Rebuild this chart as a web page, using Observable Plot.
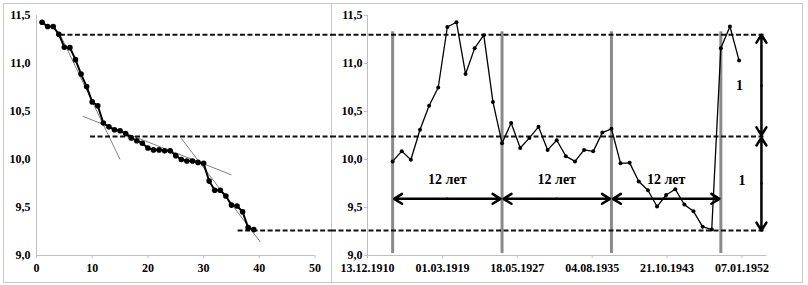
<!DOCTYPE html>
<html><head><meta charset="utf-8">
<script src="https://cdn.jsdelivr.net/npm/d3@7"></script>
<script src="https://cdn.jsdelivr.net/npm/@observablehq/plot@0.6"></script>
<style>
body{margin:0;background:#fff;overflow:hidden;}
#frame{position:relative;width:808px;height:285px;overflow:hidden;background:#fff;}
#border{position:absolute;left:3px;top:3px;width:798px;height:278px;border:1px solid #c8c8c8;}
#divider{position:absolute;left:331px;top:3px;width:1px;height:279px;background:#c8c8c8;}
#left{position:absolute;left:0;top:0;}
#right{position:absolute;left:331px;top:0;}
#frame svg{font-family:"Liberation Serif","Times New Roman",serif !important;font-weight:bold !important;}
#frame svg text{font-family:"Liberation Serif","Times New Roman",serif !important;font-weight:bold !important;}
</style></head><body>
<div id="frame"><div id="border"></div><div id="divider"></div><div id="left"></div><div id="right"></div></div>
<script>
// ---- Left panel: values sorted in descending order (rank vs value)
const rankIndex = [1,2,3,4,5,6,7,8,9,10,11,12,13,14,15,16,17,18,19,20,21,22,23,24,25,26,27,28,29,30,31,32,33,34,35,36,37,38,39];
const sortedValues = [11.43,11.385,11.385,11.305,11.17,11.165,11.04,10.89,10.76,10.60,10.56,10.38,10.34,10.31,10.30,10.27,10.225,10.195,10.17,10.12,10.10,10.10,10.09,10.09,10.04,10.00,9.985,9.985,9.97,9.96,9.775,9.68,9.68,9.62,9.525,9.515,9.455,9.29,9.27];
const leftXTicks = [0,10,20,30,40,50];
const yTicks = [9,9.5,10,10.5,11,11.5];

// trend segments on the left panel
const trendX1 = [4.0, 8.3, 26.0];
const trendY1 = [11.33, 10.45, 10.22];
const trendX2 = [15.0, 35.0, 40.2];
const trendY2 = [10.00, 9.84, 9.14];

// dashed levels
const levels = [11.30, 10.24, 9.26];
const levelStartRank = [4.3, 9.7, 36.2];
const levelEndRank = 53;

// ---- Right panel: yearly series
const years = [1913,1914,1915,1916,1917,1918,1919,1920,1921,1922,1923,1924,1925,1926,1927,1928,1929,1930,1931,1932,1933,1934,1935,1936,1937,1938,1939,1940,1941,1942,1943,1944,1945,1946,1947,1948,1949,1950,1951];
const yearValues = [9.98,10.087,9.997,10.31,10.56,10.75,11.38,11.43,10.89,11.16,11.295,10.60,10.17,10.38,10.12,10.225,10.34,10.10,10.20,10.035,9.98,10.10,10.085,10.28,10.32,9.96,9.965,9.77,9.68,9.51,9.63,9.69,9.53,9.46,9.30,9.27,11.16,11.385,11.03];
const dateTickStrings = ["1910-12-13","1919-03-01","1927-05-18","1935-08-04","1943-10-21","1952-01-07"];
const periodYears = [1913,1925,1937,1949];
const periodLabel = "12 лет";
const arrowLevel = 9.59;
const periodLabelLevel = 9.79;
const ratioLabel = "1";
const ratioLabelDates = ["1951-09-28","1952-01-14"];
const ratioLabelLevels = [10.77, 9.78];
const ratioArrowDate = "1954-02-27";
const rightDomain = ["1910-12-13","1954-10-04"];
const rightLevelSpan = ["1907-01-01","1954-08-05"];

// ---- helpers
const parse = d3.utcParse("%Y-%m-%d");
const yearDate = y => new Date(Date.UTC(y, 8, 15));
const fmtComma = d => d3.format(".1f")(d).replace(".", ",");
const axisGray = "#bfbfbf";
const serif = '"Liberation Serif", "Times New Roman", serif';
const baseStyle = {fontFamily: serif, fontSize: "12px", fontWeight: "bold", color: "#000", background: "transparent", overflow: "visible"};

const leftData = rankIndex.map((r, i) => ({r, v: sortedValues[i]}));
const trends = trendX1.map((x, i) => ({x1: x, y1: trendY1[i], x2: trendX2[i], y2: trendY2[i]}));
const leftLevels = levels.map((v, i) => ({y: v, x1: levelStartRank[i], x2: levelEndRank}));

const left = Plot.plot({
  width: 331, height: 285,
  marginLeft: 36, marginRight: 16.5, marginTop: 15, marginBottom: 30,
  x: {domain: [0, 50]},
  y: {domain: [9, 11.5]},
  style: baseStyle,
  marks: [
    Plot.ruleY([9], {stroke: axisGray}),
    Plot.ruleX([0], {stroke: axisGray}),
    Plot.axisX(leftXTicks, {tickSize: 3, tickPadding: 5, stroke: axisGray, fill: "#000", label: null}),
    Plot.axisY(yTicks, {tickSize: 0, tickPadding: 6, fill: "#000", tickFormat: fmtComma, label: null}),
    Plot.link(trends, {x1: "x1", y1: "y1", x2: "x2", y2: "y2", stroke: "#808080", strokeWidth: 1}),
    Plot.ruleY(leftLevels, {y: "y", x1: "x1", x2: "x2", stroke: "#111", strokeWidth: 2, strokeDasharray: "5,2.5"}),
    Plot.line(leftData, {x: "r", y: "v", stroke: "#000", strokeWidth: 2}),
    Plot.dot(leftData, {x: "r", y: "v", r: 2.8, fill: "#000", stroke: "none"})
  ]
});
document.getElementById("left").appendChild(left);

// right panel
const rightData = years.map((y, i) => ({d: yearDate(y), v: yearValues[i]}));
const periodDates = periodYears.map(yearDate);
const rightLevels = levels.map(v => ({y: v, x1: parse(rightLevelSpan[0]), x2: parse(rightLevelSpan[1])}));
const hArrows = [];
const periodTexts = [];
for (let i = 0; i < periodDates.length - 1; i++) {
  const a = periodDates[i], b = periodDates[i + 1];
  const m = new Date((+a + +b) / 2);
  hArrows.push({x1: m, x2: a, y1: arrowLevel, y2: arrowLevel});
  hArrows.push({x1: m, x2: b, y1: arrowLevel, y2: arrowLevel});
  periodTexts.push({x: m, y: periodLabelLevel, t: periodLabel});
}
const ad = parse(ratioArrowDate);
const vArrows = [];
for (let i = 0; i < levels.length - 1; i++) {
  const top = levels[i], bot = levels[i + 1];
  const mid = (top + bot) / 2;
  vArrows.push({x1: ad, x2: ad, y1: mid, y2: top - (i > 0 ? 0.012 : 0)});
  vArrows.push({x1: ad, x2: ad, y1: mid, y2: bot + (i === 0 ? 0.012 : 0)});
}
const ratioTexts = ratioLabelDates.map((d, i) => ({x: parse(d), y: ratioLabelLevels[i], t: ratioLabel}));

const right = Plot.plot({
  width: 477, height: 285,
  marginLeft: 36, marginRight: 41.6, marginTop: 15, marginBottom: 30,
  x: {type: "utc", domain: rightDomain.map(parse)},
  y: {domain: [9, 11.5]},
  style: baseStyle,
  marks: [
    Plot.ruleY([9], {stroke: axisGray}),
    Plot.ruleX([parse(rightDomain[0])], {stroke: axisGray}),
    Plot.axisX(dateTickStrings.map(parse), {tickSize: 3, tickPadding: 5, stroke: axisGray, fill: "#000", tickFormat: d3.utcFormat("%d.%m.%Y"), label: null}),
    Plot.axisY(yTicks, {tickSize: 3, tickPadding: 2, stroke: axisGray, fill: "#000", tickFormat: fmtComma, label: null}),
    Plot.ruleX(periodDates, {y1: 9.02, y2: 11.33, stroke: "#8a8a8a", strokeWidth: 3}),
    Plot.ruleY(rightLevels, {y: "y", x1: "x1", x2: "x2", stroke: "#111", strokeWidth: 2, strokeDasharray: "5,2.5"}),
    Plot.line(rightData, {x: "d", y: "v", stroke: "#000", strokeWidth: 1.3}),
    Plot.dot(rightData, {x: "d", y: "v", r: 2, fill: "#000", stroke: "none"}),
    Plot.arrow(hArrows, {x1: "x1", y1: "y1", x2: "x2", y2: "y2", stroke: "#000", strokeWidth: 2.5, headLength: 5.6, headAngle: 64, insetEnd: 1.5}),
    Plot.arrow(vArrows, {x1: "x1", y1: "y1", x2: "x2", y2: "y2", stroke: "#000", strokeWidth: 2.5, headLength: 5.6, headAngle: 64}),
    Plot.text(periodTexts, {x: "x", y: "y", text: "t", fontSize: 14, fontWeight: "bold", fontFamily: serif, fill: "#000"}),
    Plot.text(ratioTexts, {x: "x", y: "y", text: "t", fontSize: 14, fontWeight: "bold", fontFamily: serif, fill: "#000"})
  ]
});
document.getElementById("right").appendChild(right);
</script>
</body></html>
